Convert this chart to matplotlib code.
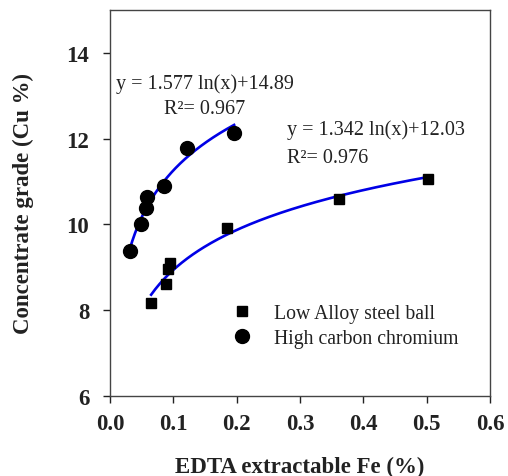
import matplotlib
matplotlib.use("Agg")

import matplotlib.pyplot as plt
import numpy as np

# EDTA extractable Fe (%) vs concentrate Cu grade (%)
low_alloy_fe = [0.065, 0.089, 0.092, 0.095, 0.185, 0.362, 0.502]
low_alloy_cu = [8.16, 8.61, 8.96, 9.09, 9.91, 10.59, 11.05]

high_carbon_fe = [0.032, 0.049, 0.057, 0.058, 0.085, 0.121, 0.196]
high_carbon_cu = [9.39, 10.00, 10.38, 10.65, 10.90, 11.79, 12.14]

# logarithmic fits y = a ln(x) + b
low_alloy_fit = (1.342, 12.03, 0.976)
high_carbon_fit = (1.577, 14.89, 0.967)

plt.rcParams["font.family"] = ["Liberation Serif", "DejaVu Serif"]
text_color = "#222222"

fig = plt.figure(figsize=(5.08, 4.77), dpi=100)
ax = fig.add_axes([0.2165, 0.1677, 0.748, 0.8093])

for fe, (a, b, _) in ((low_alloy_fe, low_alloy_fit), (high_carbon_fe, high_carbon_fit)):
    xs = np.linspace(min(fe), max(fe), 200)
    ax.plot(xs, a * np.log(xs) + b, color="#0000e6", linewidth=1.9, zorder=2)

ax.plot(low_alloy_fe, low_alloy_cu, linestyle="none", marker="s", markersize=6.5,
        color="black", label="Low Alloy steel ball", zorder=3)
ax.plot(high_carbon_fe, high_carbon_cu, linestyle="none", marker="o", markersize=10,
        color="black", label="High carbon chromium", zorder=3)

a, b, r2 = high_carbon_fit
ax.text(0.009, 13.18, f"y = {a:.3f} ln(x)+{b:.2f}", fontsize=14.5, color=text_color)
ax.text(0.086, 12.6, f"R\u00b2= {r2:.3f}", fontsize=14.5, color=text_color)
a, b, r2 = low_alloy_fit
ax.text(0.279, 12.12, f"y = {a:.3f} ln(x)+{b:.2f}", fontsize=14.5, color=text_color)
ax.text(0.279, 11.45, f"R\u00b2= {r2:.3f}", fontsize=14.5, color=text_color)

ax.set_xlim(0.0, 0.6)
ax.set_ylim(6, 15)
ax.set_xticks(np.arange(0.0, 0.61, 0.1))
ax.set_yticks([6, 8, 10, 12, 14])
ax.set_xticklabels([f"{v:.1f}" for v in np.arange(0.0, 0.61, 0.1)])

for label in ax.get_xticklabels() + ax.get_yticklabels():
    label.set_fontweight("bold")
ax.tick_params(axis="both", labelsize=16.5, colors=text_color, direction="out",
               length=5, width=1)
ax.tick_params(axis="x", pad=7)
ax.tick_params(axis="y", pad=10)
for spine in ax.spines.values():
    spine.set_color("#444444")
    spine.set_linewidth(1.0)

ax.set_xlabel("EDTA extractable Fe (%)", fontsize=16.5, fontweight="bold",
              color=text_color, labelpad=16)
ax.set_ylabel("Concentrate grade (Cu %)", fontsize=16.5, fontweight="bold",
              color=text_color, labelpad=23)

leg = ax.legend(loc="lower left", bbox_to_anchor=(0.296, 0.1), frameon=False,
                fontsize=14.2, handletextpad=1.1, labelspacing=0.3,
                handlelength=1.0, borderpad=0)
for t in leg.get_texts():
    t.set_color(text_color)

fig.savefig("out.png", dpi=100)
